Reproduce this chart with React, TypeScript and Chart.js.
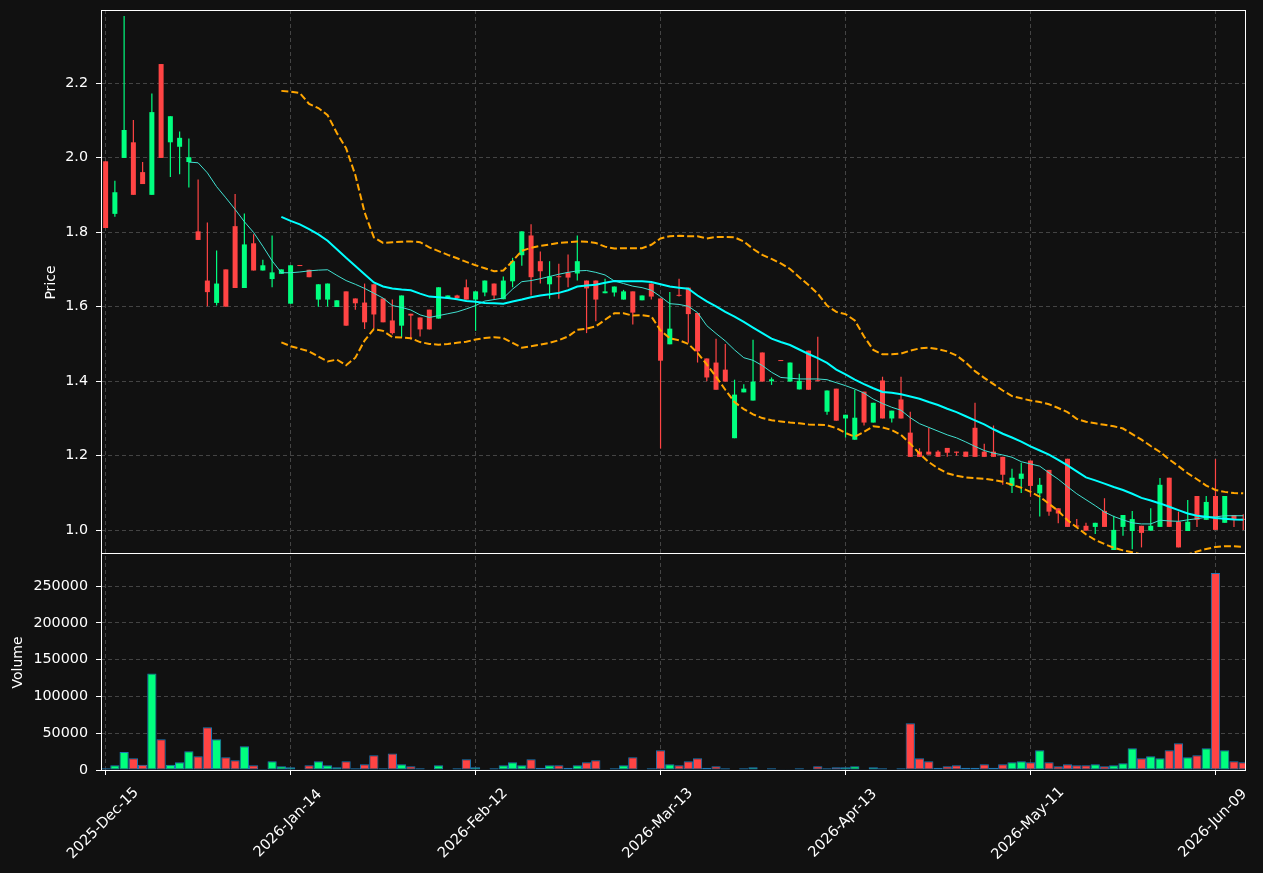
import React, { useEffect, useRef } from 'react';
import { Chart, registerables } from 'chart.js';

Chart.register(...registerables);

// ---------- data ----------
const tickIndices = [0, 20, 40, 60, 80, 100, 120];
const tickLabels = ['2025-Dec-15', '2026-Jan-14', '2026-Feb-12', '2026-Mar-13', '2026-Apr-13', '2026-May-11', '2026-Jun-09'];
const priceTicks = [1.0, 1.2, 1.4, 1.6, 1.8, 2.0, 2.2];
const volumeTicks = [0, 50000, 100000, 150000, 200000, 250000];

const open = [
  1.990, 1.849, 1.999, 2.041, 1.961, 1.900, 2.251, 2.041, 2.029, 1.988,
  1.802, 1.670, 1.610, 1.700, 1.816, 1.650, 1.770, 1.697, 1.674, 1.688,
  1.608, 1.711, 1.699, 1.619, 1.619, 1.599, 1.641, 1.622, 1.611, 1.660,
  1.622, 1.563, 1.549, 1.581, 1.571, 1.592, 1.568, 1.622, 1.630, 1.652,
  1.619, 1.638, 1.662, 1.620, 1.668, 1.738, 1.791, 1.722, 1.660, 1.681,
  1.692, 1.689, 1.670, 1.670, 1.636, 1.638, 1.619, 1.641, 1.617, 1.662,
  1.622, 1.499, 1.631, 1.651, 1.583, 1.461, 1.450, 1.431, 1.247, 1.370,
  1.348, 1.477, 1.400, 1.456, 1.399, 1.378, 1.482, 1.402, 1.318, 1.380,
  1.300, 1.243, 1.372, 1.289, 1.402, 1.300, 1.351, 1.262, 1.211, 1.211,
  1.211, 1.221, 1.211, 1.211, 1.275, 1.211, 1.211, 1.197, 1.119, 1.138,
  1.187, 1.099, 1.162, 1.059, 1.192, 1.012, 1.012, 1.009, 1.052, 0.947,
  1.009, 0.998, 1.012, 0.999, 1.009, 1.141, 1.023, 0.998, 1.092, 1.028,
  1.092, 1.020, 1.041, 1.030,
];
const high = [
  1.990, 1.938, 2.380, 2.101, 1.988, 2.172, 2.251, 2.111, 2.070, 2.051,
  1.941, 1.826, 1.751, 1.700, 1.902, 1.850, 1.794, 1.726, 1.791, 1.700,
  1.711, 1.711, 1.699, 1.660, 1.662, 1.617, 1.641, 1.622, 1.662, 1.660,
  1.622, 1.619, 1.630, 1.581, 1.571, 1.592, 1.652, 1.630, 1.632, 1.673,
  1.641, 1.670, 1.662, 1.681, 1.731, 1.802, 1.821, 1.748, 1.722, 1.715,
  1.740, 1.791, 1.670, 1.670, 1.675, 1.654, 1.645, 1.641, 1.630, 1.662,
  1.622, 1.639, 1.675, 1.651, 1.583, 1.461, 1.514, 1.500, 1.404, 1.392,
  1.511, 1.477, 1.410, 1.456, 1.450, 1.420, 1.482, 1.519, 1.375, 1.380,
  1.310, 1.377, 1.372, 1.342, 1.412, 1.321, 1.412, 1.318, 1.220, 1.275,
  1.215, 1.221, 1.211, 1.211, 1.342, 1.232, 1.281, 1.197, 1.165, 1.181,
  1.187, 1.140, 1.162, 1.059, 1.192, 1.030, 1.020, 1.020, 1.086, 1.039,
  1.041, 1.052, 1.012, 1.059, 1.140, 1.141, 1.050, 1.081, 1.092, 1.092,
  1.191, 1.092, 1.041, 1.043,
];
const low = [
  1.811, 1.841, 1.999, 1.900, 1.929, 1.900, 1.999, 1.948, 1.955, 1.920,
  1.779, 1.601, 1.603, 1.600, 1.650, 1.650, 1.697, 1.697, 1.652, 1.688,
  1.608, 1.709, 1.679, 1.600, 1.600, 1.599, 1.549, 1.592, 1.540, 1.543,
  1.558, 1.525, 1.518, 1.512, 1.520, 1.539, 1.568, 1.622, 1.621, 1.619,
  1.535, 1.628, 1.619, 1.620, 1.652, 1.710, 1.630, 1.662, 1.621, 1.621,
  1.652, 1.670, 1.529, 1.561, 1.636, 1.627, 1.619, 1.552, 1.617, 1.619,
  1.219, 1.499, 1.627, 1.503, 1.450, 1.400, 1.377, 1.399, 1.247, 1.370,
  1.348, 1.399, 1.390, 1.454, 1.399, 1.378, 1.377, 1.400, 1.310, 1.294,
  1.249, 1.243, 1.281, 1.289, 1.300, 1.289, 1.300, 1.197, 1.197, 1.203,
  1.197, 1.197, 1.200, 1.197, 1.197, 1.197, 1.197, 1.122, 1.100, 1.100,
  1.090, 1.037, 1.039, 1.019, 1.009, 1.009, 0.999, 0.990, 1.009, 0.947,
  0.985, 0.949, 0.954, 0.999, 1.009, 1.009, 0.954, 0.998, 1.009, 1.028,
  1.001, 1.020, 1.009, 1.001,
];
const close = [
  1.811, 1.907, 2.074, 1.900, 1.929, 2.122, 1.999, 2.111, 2.053, 2.001,
  1.779, 1.639, 1.662, 1.600, 1.650, 1.767, 1.697, 1.711, 1.692, 1.700,
  1.711, 1.709, 1.679, 1.660, 1.662, 1.617, 1.549, 1.609, 1.558, 1.579,
  1.558, 1.529, 1.630, 1.576, 1.539, 1.539, 1.652, 1.630, 1.623, 1.619,
  1.641, 1.670, 1.630, 1.670, 1.722, 1.802, 1.679, 1.695, 1.681, 1.679,
  1.678, 1.722, 1.649, 1.619, 1.641, 1.654, 1.641, 1.584, 1.630, 1.627,
  1.455, 1.541, 1.629, 1.580, 1.480, 1.410, 1.377, 1.399, 1.364, 1.380,
  1.399, 1.399, 1.405, 1.454, 1.450, 1.401, 1.377, 1.400, 1.375, 1.294,
  1.310, 1.302, 1.289, 1.342, 1.300, 1.321, 1.300, 1.197, 1.197, 1.203,
  1.197, 1.208, 1.208, 1.197, 1.197, 1.197, 1.197, 1.149, 1.141, 1.152,
  1.119, 1.122, 1.050, 1.045, 1.009, 1.010, 0.999, 1.020, 1.009, 1.001,
  1.041, 1.030, 0.993, 1.012, 1.122, 1.009, 0.954, 1.023, 1.028, 1.076,
  1.001, 1.092, 1.030, 1.028,
];
const volume = [
  2300, 6300, 24500, 15900, 7200, 131300, 41700, 7200, 10400, 25400,
  18600, 58000, 41700, 17200, 13100, 32200, 6300, 1400, 11800, 5000,
  3600, 500, 6300, 11800, 6300, 3600, 11800, 2300, 7700, 19900,
  2300, 22600, 7700, 5000, 2300, 900, 6300, 900, 2300, 14500,
  3600, 500, 2300, 6300, 10400, 6300, 14500, 3200, 6300, 6300,
  3200, 6300, 10400, 13100, 500, 2300, 6300, 17200, 500, 2300,
  26700, 7700, 6300, 11800, 15900, 3200, 5000, 2300, 700, 2300,
  3600, 700, 2300, 500, 500, 2300, 500, 5000, 2300, 3600,
  3600, 5000, 500, 3600, 2300, 500, 2300, 63400, 15900, 11800,
  3200, 5000, 6300, 3200, 3200, 7700, 3200, 7700, 10400, 11800,
  10400, 26700, 10400, 5000, 7700, 6300, 6300, 7700, 5000, 6300,
  9100, 29400, 15900, 18600, 15900, 26700, 36200, 17200, 19900, 29400,
  267700, 26700, 11800, 10400,
];

// short moving average, starts at candle 9
const MA_FAST_START = 9;
const maFast = [
  1.988, 1.986, 1.959, 1.922, 1.892, 1.861, 1.828, 1.799, 1.762, 1.723,
  1.691, 1.691, 1.693, 1.696, 1.698, 1.699, 1.684, 1.670, 1.660, 1.649,
  1.636, 1.623, 1.603, 1.598, 1.591, 1.578, 1.571, 1.576, 1.581, 1.586,
  1.594, 1.603, 1.615, 1.619, 1.623, 1.647, 1.667, 1.670, 1.675, 1.681,
  1.687, 1.692, 1.696, 1.697, 1.692, 1.685, 1.669, 1.662, 1.655, 1.651,
  1.644, 1.627, 1.608, 1.606, 1.601, 1.584, 1.549, 1.528, 1.508, 1.484,
  1.463, 1.456, 1.442, 1.424, 1.410, 1.408, 1.406, 1.406, 1.406, 1.404,
  1.396, 1.388, 1.379, 1.368, 1.352, 1.340, 1.330, 1.322, 1.302, 1.286,
  1.276, 1.266, 1.256, 1.248, 1.237, 1.225, 1.214, 1.207, 1.202, 1.196,
  1.184, 1.178, 1.172, 1.154, 1.137, 1.117, 1.098, 1.082, 1.066, 1.049,
  1.037, 1.028, 1.020, 1.017, 1.017, 1.027, 1.025, 1.024, 1.028, 1.031,
  1.035, 1.036, 1.039, 1.039, 1.039,
];
// long moving average and bands, start at candle 19
const MA_SLOW_START = 19;
const maSlow = [
  1.841, 1.830, 1.821, 1.808, 1.794, 1.777, 1.754, 1.731, 1.709, 1.687,
  1.665, 1.654, 1.649, 1.646, 1.644, 1.635, 1.627, 1.625, 1.623, 1.620,
  1.615, 1.613, 1.610, 1.609, 1.608, 1.614, 1.619, 1.625, 1.630, 1.633,
  1.637, 1.644, 1.654, 1.657, 1.659, 1.664, 1.669, 1.668, 1.668, 1.668,
  1.666, 1.660, 1.654, 1.651, 1.648, 1.630, 1.614, 1.601, 1.586, 1.573,
  1.559, 1.544, 1.529, 1.514, 1.505, 1.497, 1.485, 1.473, 1.462, 1.449,
  1.431, 1.418, 1.404, 1.392, 1.381, 1.371, 1.369, 1.365, 1.359, 1.353,
  1.344, 1.336, 1.326, 1.317, 1.306, 1.295, 1.284, 1.271, 1.259, 1.249,
  1.238, 1.225, 1.214, 1.203, 1.189, 1.174, 1.158, 1.142, 1.134, 1.125,
  1.116, 1.108, 1.098, 1.087, 1.080, 1.072, 1.063, 1.054, 1.045, 1.039,
  1.036, 1.033, 1.031, 1.029, 1.028,
];
const bandUpper = [
  2.179, 2.177, 2.173, 2.144, 2.133, 2.114, 2.066, 2.025, 1.953, 1.853,
  1.786, 1.771, 1.773, 1.774, 1.775, 1.773, 1.759, 1.749, 1.739, 1.730,
  1.720, 1.711, 1.703, 1.695, 1.697, 1.722, 1.750, 1.758, 1.763, 1.767,
  1.771, 1.773, 1.775, 1.774, 1.771, 1.761, 1.756, 1.757, 1.757, 1.757,
  1.766, 1.783, 1.789, 1.790, 1.789, 1.789, 1.783, 1.787, 1.787, 1.786,
  1.775, 1.755, 1.739, 1.728, 1.716, 1.701, 1.679, 1.658, 1.635, 1.603,
  1.586, 1.580, 1.563, 1.520, 1.484, 1.472, 1.472, 1.474, 1.482, 1.488,
  1.490, 1.486, 1.480, 1.469, 1.450, 1.427, 1.409, 1.392, 1.375, 1.360,
  1.354, 1.348, 1.344, 1.338, 1.328, 1.317, 1.299, 1.291, 1.287, 1.283,
  1.279, 1.273, 1.258, 1.243, 1.226, 1.210, 1.190, 1.172, 1.153, 1.137,
  1.120, 1.108, 1.103, 1.100, 1.099,
];
const bandLower = [
  1.504, 1.494, 1.487, 1.480, 1.466, 1.453, 1.458, 1.443, 1.463, 1.509,
  1.540, 1.535, 1.518, 1.517, 1.515, 1.505, 1.500, 1.498, 1.500, 1.503,
  1.506, 1.512, 1.516, 1.518, 1.516, 1.503, 1.490, 1.494, 1.498, 1.503,
  1.510, 1.520, 1.538, 1.541, 1.547, 1.565, 1.582, 1.582, 1.576, 1.577,
  1.574, 1.536, 1.515, 1.510, 1.500, 1.476, 1.445, 1.412, 1.377, 1.344,
  1.325, 1.311, 1.301, 1.295, 1.292, 1.289, 1.287, 1.284, 1.283, 1.282,
  1.274, 1.261, 1.251, 1.264, 1.279, 1.276, 1.269, 1.256, 1.232, 1.206,
  1.183, 1.166, 1.153, 1.146, 1.142, 1.140, 1.138, 1.135, 1.130, 1.122,
  1.114, 1.103, 1.090, 1.071, 1.052, 1.027, 1.008, 0.989, 0.974, 0.963,
  0.953, 0.946, 0.941, 0.935, 0.929, 0.926, 0.926, 0.929, 0.935, 0.943,
  0.950, 0.955, 0.957, 0.957, 0.955,
];

// ---------- styling ----------
const BG = '#111111';
const UP = '#00ff7f';
const DOWN = '#ff4444';
const GRID = '#444444';
const FONT = '"DejaVu Sans", sans-serif';

function series(start: number, vals: number[]) {
  return vals.map((v, k) => ({ x: start + k, y: v }));
}

export default function App() {
  const ref = useRef<HTMLCanvasElement>(null);

  useEffect(() => {
    const canvas = ref.current;
    if (!canvas) return;
    Chart.defaults.font.family = FONT;

    const idx = close.map((_, i) => i);
    const colors = idx.map((i) => (close[i] >= open[i] ? UP : DOWN));

    const overlay = {
      id: 'overlay',
      beforeDraw(chart: any) {
        const { ctx } = chart;
        ctx.save();
        ctx.fillStyle = BG;
        ctx.fillRect(0, 0, chart.width, chart.height);
        ctx.restore();
      },
      afterDraw(chart: any) {
        const { ctx } = chart;
        const xs = chart.scales.x;
        const yp = chart.scales.y;
        const yv = chart.scales.yv;
        const L = Math.round(xs.left) + 0.5;
        const R = Math.round(xs.right) - 0.5;
        const T = Math.round(yp.top) + 0.5;
        const M = Math.round(yp.bottom) + 0.5;
        const B = Math.round(yv.bottom) + 0.5;
        ctx.save();
        ctx.strokeStyle = '#ffffff';
        ctx.lineWidth = 1;
        ctx.setLineDash([]);
        ctx.strokeRect(L, T, R - L, M - T);
        ctx.strokeRect(L, M, R - L, B - M);

        ctx.fillStyle = '#ffffff';
        ctx.font = `14.5px ${FONT}`;
        ctx.textAlign = 'center';
        ctx.textBaseline = 'middle';
        tickIndices.forEach((v, k) => {
          const px = xs.getPixelForValue(v);
          ctx.save();
          ctx.translate(px - 2.5, 823.5);
          ctx.rotate(-Math.PI / 4);
          ctx.fillText(tickLabels[k], 0, 0);
          ctx.restore();
        });
        // axis titles
        ctx.font = `14px ${FONT}`;
        ctx.save();
        ctx.translate(51, (yp.top + yp.bottom) / 2 + 1);
        ctx.rotate(-Math.PI / 2);
        ctx.fillText('Price', 0, 0);
        ctx.restore();
        ctx.save();
        ctx.translate(18, (yv.top + yv.bottom) / 2 + 1);
        ctx.rotate(-Math.PI / 2);
        ctx.fillText('Volume', 0, 0);
        ctx.restore();
        ctx.restore();
      },
    };

    const lineBase = { type: 'line', pointRadius: 0, tension: 0, fill: false, yAxisID: 'y', xAxisID: 'x', order: 1 };
    const noPad = (s: any) => { s.width = 101; s.paddingTop = 0; s.paddingBottom = 0; };

    const chart = new Chart(canvas, {
      type: 'bar',
      data: {
        datasets: [
          { ...lineBase, label: 'MA slow', data: series(MA_SLOW_START, maSlow), borderColor: '#00ffff', borderWidth: 2 },
          { ...lineBase, label: 'MA fast', data: series(MA_FAST_START, maFast), borderColor: '#40e0d0', borderWidth: 1 },
          { ...lineBase, label: 'Upper', data: series(MA_SLOW_START, bandUpper), borderColor: '#ffa500', borderWidth: 2, borderDash: [7, 3] },
          { ...lineBase, label: 'Lower', data: series(MA_SLOW_START, bandLower), borderColor: '#ffa500', borderWidth: 2, borderDash: [7, 3] },
          {
            type: 'bar', label: 'Body', yAxisID: 'y', xAxisID: 'x', order: 2,
            data: idx.map((i) => ({ x: i, y: [open[i], close[i]] })),
            backgroundColor: colors, borderWidth: 0, grouped: false,
            barThickness: 5, maxBarThickness: 5, minBarLength: 1, inflateAmount: 0,
          },
          {
            type: 'bar', label: 'Wick', yAxisID: 'y', xAxisID: 'x', order: 3,
            data: idx.map((i) => ({ x: i, y: [low[i], high[i]] })),
            backgroundColor: colors, borderWidth: 0, grouped: false,
            barThickness: 1.2, maxBarThickness: 1.2, inflateAmount: 0,
          },
          {
            type: 'bar', label: 'Volume', yAxisID: 'yv', xAxisID: 'x', order: 4,
            data: idx.map((i) => ({ x: i, y: volume[i] })),
            backgroundColor: colors, borderColor: '#1f77b4', borderWidth: 1, borderSkipped: false,
            grouped: false, barThickness: 9.25, maxBarThickness: 9.25, inflateAmount: 0,
          },
        ],
      } as any,
      options: {
        responsive: false,
        animation: false,
        events: [],
        layout: { padding: { left: 0, top: 10, right: 17, bottom: 0 } },
        plugins: { legend: { display: false }, tooltip: { enabled: false } },
        scales: {
          x: {
            type: 'linear', position: 'bottom', min: -0.5, max: 123.3, bounds: 'data', offset: false,
            grid: { offset: false, color: GRID, lineWidth: 1, drawTicks: true, tickLength: 5, tickColor: '#ffffff', tickWidth: 1 },
            border: { display: false, dash: [4, 3] },
            ticks: { display: false },
            afterBuildTicks: (s: any) => { s.ticks = tickIndices.map((v) => ({ value: v })); },
            afterFit: (s: any) => { s.height = 103; s.paddingLeft = 0; s.paddingRight = 0; },
          },
          yv: {
            type: 'linear', position: 'left', stack: 'panels', stackWeight: 217, weight: 0,
            min: 0, max: 295000, bounds: 'data',
            grid: { color: GRID, lineWidth: 1, tickLength: 5, tickColor: '#ffffff', tickWidth: 1 },
            border: { display: false, dash: [4, 3] },
            ticks: { color: '#ffffff', font: { family: FONT, size: 14.3 }, padding: 8, callback: (v: any) => String(v) },
            afterBuildTicks: (s: any) => { s.ticks = volumeTicks.map((v) => ({ value: v })); },
            afterFit: noPad,
          },
          y: {
            type: 'linear', position: 'left', stack: 'panels', stackWeight: 543, weight: 1,
            min: 0.939, max: 2.396, bounds: 'data',
            grid: { color: GRID, lineWidth: 1, tickLength: 5, tickColor: '#ffffff', tickWidth: 1 },
            border: { display: false, dash: [4, 3] },
            ticks: { color: '#ffffff', font: { family: FONT, size: 14.3 }, padding: 8, callback: (v: any) => Number(v).toFixed(1) },
            afterBuildTicks: (s: any) => { s.ticks = priceTicks.map((v) => ({ value: v })); },
            afterFit: noPad,
          },
        },
      } as any,
      plugins: [overlay],
    });

    return () => chart.destroy();
  }, []);

  return (
    <div style={{ position: 'absolute', left: 0, top: 0, width: 1263, height: 873, background: BG }}>
      <canvas ref={ref} width={1263} height={873} style={{ display: 'block', width: 1263, height: 873 }} />
    </div>
  );
}
